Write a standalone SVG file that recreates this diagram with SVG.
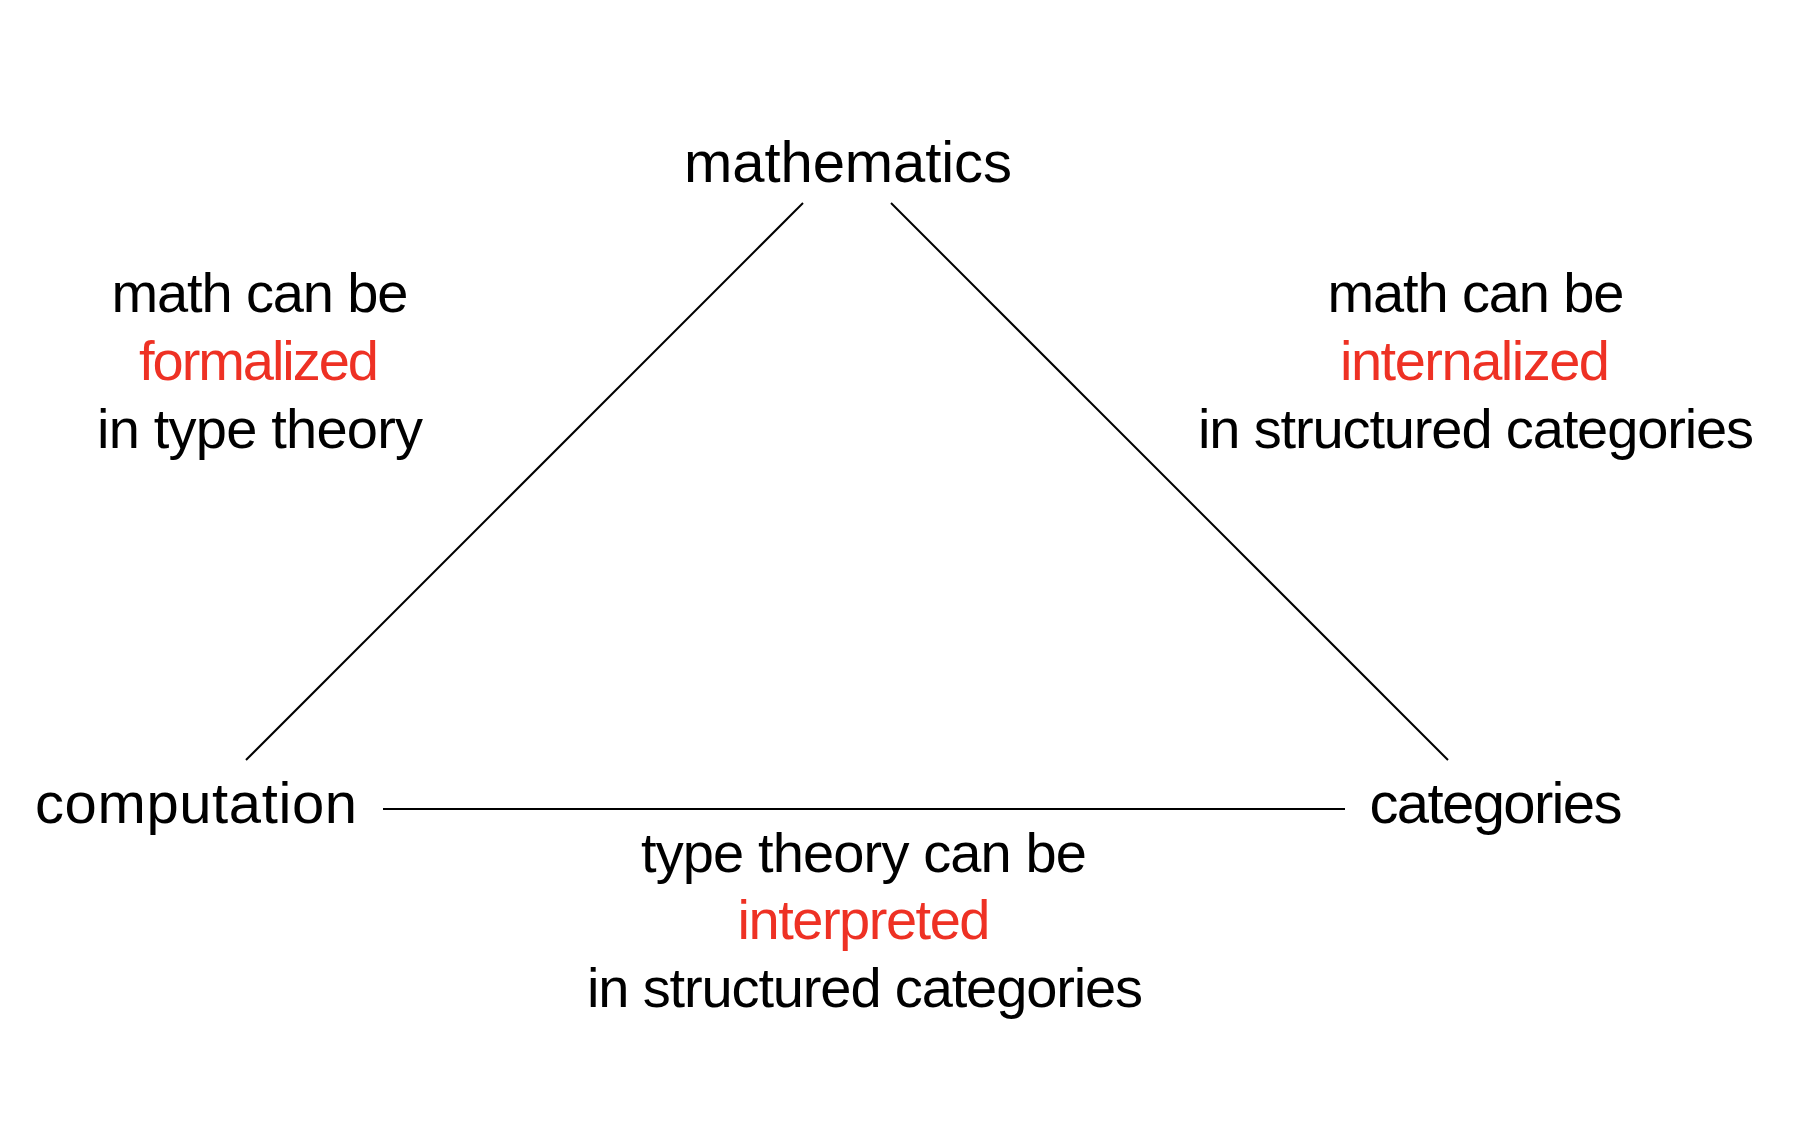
<svg xmlns="http://www.w3.org/2000/svg" width="1806" height="1140" viewBox="0 0 1806 1140">
<style>
text{font-family:"Liberation Sans",Arial,sans-serif;font-size:56px;fill:#000;text-anchor:middle}
.node{font-size:58px}
.red{fill:#ee3124}
.edge{stroke:#000;stroke-width:2;fill:none}
</style>
<rect width="1806" height="1140" fill="#fff"/>
<g id="connectors">
<line class="edge" x1="803" y1="203" x2="246" y2="760"/>
<line class="edge" x1="891" y1="203" x2="1448" y2="760"/>
<line class="edge" x1="383" y1="809" x2="1345" y2="809"/>
</g>
<g id="mathematics"><text class="node" x="848" y="182" textLength="328" lengthAdjust="spacing">mathematics</text></g>
<g id="computation"><text class="node" x="196" y="823" textLength="322" lengthAdjust="spacing">computation</text></g>
<g id="categories"><text class="node" x="1496" y="823" textLength="253" lengthAdjust="spacing">categories</text></g>
<g id="label-formalized">
<text x="260" y="312" textLength="297" lengthAdjust="spacing">math can be</text>
<text class="red" x="259" y="380" textLength="240" lengthAdjust="spacing">formalized</text>
<text x="260" y="448" textLength="326" lengthAdjust="spacing">in type theory</text>
</g>
<g id="label-internalized">
<text x="1476" y="312" textLength="297" lengthAdjust="spacing">math can be</text>
<text class="red" x="1475" y="380" textLength="270" lengthAdjust="spacing">internalized</text>
<text x="1476" y="448" textLength="556" lengthAdjust="spacing">in structured categories</text>
</g>
<g id="label-interpreted">
<text x="864" y="872" textLength="446" lengthAdjust="spacing">type theory can be</text>
<text class="red" x="864" y="939" textLength="253" lengthAdjust="spacing">interpreted</text>
<text x="865" y="1007" textLength="556" lengthAdjust="spacing">in structured categories</text>
</g>
</svg>
